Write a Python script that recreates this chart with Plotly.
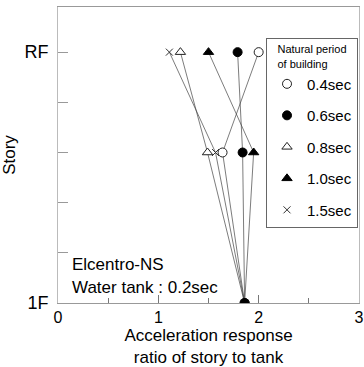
import plotly.graph_objects as go

story_pos = [5, 3, 0]          # RF, middle story, 1F
story_ticks = [0, 1, 2, 3, 4, 5]
story_labels = ["1F", "", "", "", "", "RF"]

periods = ["0.4sec", "0.6sec", "0.8sec", "1.0sec", "1.5sec"]
ratio_04 = [2.00, 1.64, 1.86]
ratio_06 = [1.79, 1.84, 1.86]
ratio_08 = [1.22, 1.49, 1.86]
ratio_10 = [1.50, 1.95, 1.86]
ratio_15 = [1.11, 1.57, 1.86]

series = [
    (periods[0], ratio_04, dict(symbol="circle", color="white", size=9, line=dict(color="#222", width=1)), 1),
    (periods[1], ratio_06, dict(symbol="circle", color="black", size=9, line=dict(color="black", width=1)), 2),
    (periods[2], ratio_08, dict(symbol="triangle-up", color="white", size=9, line=dict(color="#222", width=1)), 3),
    (periods[3], ratio_10, dict(symbol="triangle-up", color="black", size=9, line=dict(color="black", width=1)), 4),
    (periods[4], ratio_15, dict(symbol="x-thin", color="#333", size=7, line=dict(color="#333", width=1)), 5),
]

fig = go.Figure()
for name, xs, mk, rank in series:
    fig.add_trace(go.Scatter(
        x=xs, y=story_pos, mode="lines", showlegend=False,
        line=dict(color="#444", width=0.7), hoverinfo="skip",
    ))
# draw filled circle last so it sits on top at 1F
order = [0, 2, 3, 4, 1]
for i in order:
    name, xs, mk, rank = series[i]
    fig.add_trace(go.Scatter(
        x=xs, y=story_pos, mode="markers", name=name,
        marker=mk, legendrank=rank, legendgroup=name,
    ))

font = "Liberation Sans, Arial, sans-serif"
fig.update_layout(
    width=364, height=367,
    margin=dict(l=58, r=5, t=7, b=64, autoexpand=False),
    paper_bgcolor="white", plot_bgcolor="white",
    font=dict(family=font, size=17, color="black"),
    showlegend=True,
    legend=dict(
        x=0.9967, y=0.8953, xanchor="right", yanchor="top",
        bgcolor="white", bordercolor="#666", borderwidth=1,
        font=dict(size=15),
        title=dict(text="Natural period<br>of building", font=dict(size=11), side="top center"),
        tracegroupgap=9, itemwidth=30,
    ),
    xaxis=dict(
        range=[0, 3], tickvals=[0, 1, 2, 3], ticks="inside", ticklen=8,
        tickcolor="#777", showgrid=False, zeroline=False, automargin=False,
        showline=True, linecolor="#999", mirror=True, linewidth=1,
        tickfont=dict(size=16),
        minor=dict(dtick=0.5, ticks="inside", ticklen=5, tickcolor="#777"),
        title=dict(text="Acceleration response<br>ratio of story to tank", font=dict(size=17), standoff=5),
    ),
    yaxis=dict(
        range=[0, 5.9], tickvals=story_ticks, ticktext=story_labels,
        ticks="inside", ticklen=10, tickcolor="#999", showgrid=False, zeroline=False,
        automargin=False, ticklabelstandoff=5,
        showline=True, linecolor="#bbb", mirror=True, linewidth=1,
        tickfont=dict(size=18),
        title=dict(text="Story", font=dict(size=17), standoff=9),
    ),
)

fig.add_annotation(x=0.04, y=0.13, xref="paper", yref="paper", xanchor="left", yanchor="middle",
                   text="Elcentro-NS", showarrow=False, font=dict(size=17))
fig.add_annotation(x=0.04, y=0.054, xref="paper", yref="paper", xanchor="left", yanchor="middle",
                   text="Water tank : 0.2sec", showarrow=False, font=dict(size=17))

fig.write_html("out.html")
